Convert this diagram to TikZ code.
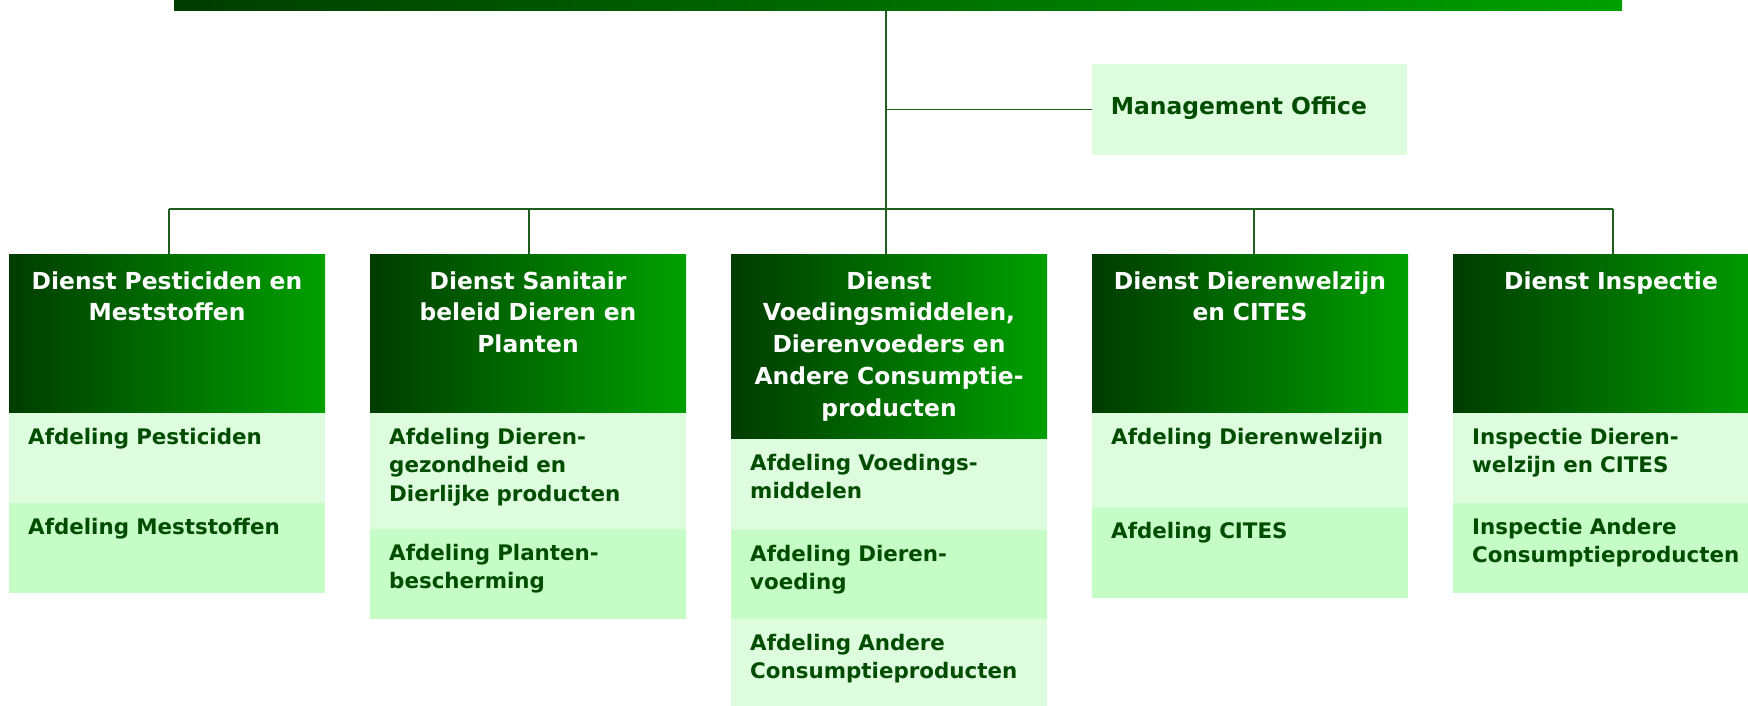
\documentclass[tikz,border=0pt]{standalone}
\usepackage{fontspec}
\setmainfont{DejaVu Sans}
\usetikzlibrary{calc}
\definecolor{dk}{HTML}{003C00}
\definecolor{br}{HTML}{00A000}
\definecolor{lightA}{HTML}{DEFCDE}
\definecolor{lightB}{HTML}{C6FCC6}
\definecolor{txtg}{HTML}{004D00}
\definecolor{linec}{HTML}{1E5E1E}
\newcommand\headfnt{\bfseries\fontsize{23.4}{31.8}\selectfont}
\newcommand\subfnt{\bfseries\fontsize{21.4}{28.8}\selectfont}
\begin{document}
\begin{tikzpicture}[x=1pt,y=-1pt,
  box/.style={anchor=north west, minimum width=316pt, inner sep=0pt, outer sep=0pt, draw=none},
  headbox/.style={box, left color=dk, right color=br},
  subA/.style={box, fill=lightA},
  subB/.style={box, fill=lightB},
  headtxt/.style={anchor=base, text width=310pt, align=center, inner sep=0pt, text=white, font=\headfnt},
  subtxt/.style={anchor=base west, text width=292pt, align=left, inner sep=0pt, text=txtg, font=\subfnt},
  conn/.style={draw=linec, line width=1.8pt}
]
\clip (0,0) rectangle (1748,705);
\fill[white] (0,0) rectangle (1748,705);

% top bar
\node[box, minimum width=1448pt, minimum height=10pt, left color=dk, right color=br] (topbar) at (174,0) {};

% management office
\node[box, minimum width=315pt, minimum height=91pt, fill=lightA] (mo) at (1092,64) {};
\node[anchor=base west, inner sep=0pt, text=txtg, font=\headfnt] (mot) at (1110.6,114) {Management Office};

% heads
\node[headbox, minimum height=159pt] (h1) at (9,254) {};
\node[headbox, minimum height=159pt] (h2) at (370,254) {};
\node[headbox, minimum height=185pt] (h3) at (731,254) {};
\node[headbox, minimum height=159pt] (h4) at (1092,254) {};
\node[headbox, minimum height=159pt] (h5) at (1453,254) {};

% sub boxes
\node[subA, minimum height=90pt] (s11) at (h1.south west) {};
\node[subB, minimum height=90pt] (s12) at (s11.south west) {};
\node[subA, minimum height=116pt] (s21) at (h2.south west) {};
\node[subB, minimum height=90pt] (s22) at (s21.south west) {};
\node[subA, minimum height=91pt] (s31) at (h3.south west) {};
\node[subB, minimum height=89pt] (s32) at (s31.south west) {};
\node[subA, minimum height=95pt] (s33) at (s32.south west) {};
\node[subA, minimum height=94pt] (s41) at (h4.south west) {};
\node[subB, minimum height=91pt] (s42) at (s41.south west) {};
\node[subA, minimum height=90pt] (s51) at (h5.south west) {};
\node[subB, minimum height=90pt] (s52) at (s51.south west) {};

% head texts
\node[headtxt] (t1) at ([yshift=-35pt]h1.north) {Dienst Pesticiden en\\Meststoffen};
\node[headtxt] (t2) at ([yshift=-35pt]h2.north) {Dienst Sanitair\\beleid Dieren en\\Planten};
\node[headtxt] (t3) at ([yshift=-35pt]h3.north) {Dienst\\Voedingsmiddelen,\\Dierenvoeders en\\Andere Consumptie-\\producten};
\node[headtxt] (t4) at ([yshift=-35pt]h4.north) {Dienst Dierenwelzijn\\en CITES};
\node[headtxt] (t5) at ([yshift=-35pt]h5.north) {Dienst Inspectie};

% sub texts
\node[subtxt] (u11) at ([xshift=19pt,yshift=-31pt]s11.north west) {Afdeling Pesticiden};
\node[subtxt] (u12) at ([xshift=19pt,yshift=-31pt]s12.north west) {Afdeling Meststoffen};
\node[subtxt] (u21) at ([xshift=19pt,yshift=-31pt]s21.north west) {Afdeling Dieren-\\gezondheid en\\Dierlijke producten};
\node[subtxt] (u22) at ([xshift=19pt,yshift=-31pt]s22.north west) {Afdeling Planten-\\bescherming};
\node[subtxt] (u31) at ([xshift=19pt,yshift=-31pt]s31.north west) {Afdeling Voedings-\\middelen};
\node[subtxt] (u32) at ([xshift=19pt,yshift=-31pt]s32.north west) {Afdeling Dieren-\\voeding};
\node[subtxt] (u33) at ([xshift=19pt,yshift=-31pt]s33.north west) {Afdeling Andere\\Consumptieproducten};
\node[subtxt] (u41) at ([xshift=19pt,yshift=-31pt]s41.north west) {Afdeling Dierenwelzijn};
\node[subtxt] (u42) at ([xshift=19pt,yshift=-31pt]s42.north west) {Afdeling CITES};
\node[subtxt] (u51) at ([xshift=19pt,yshift=-31pt]s51.north west) {Inspectie Dieren-\\welzijn en CITES};
\node[subtxt] (u52) at ([xshift=19pt,yshift=-31pt]s52.north west) {Inspectie Andere\\Consumptieproducten};

% connector attachment points on the heads
\coordinate (d1) at ([xshift=2pt]h1.north);
\coordinate (d2) at ([xshift=1pt]h2.north);
\coordinate (d3) at ([xshift=-3pt]h3.north);
\coordinate (d4) at ([xshift=4pt]h4.north);
\coordinate (d5) at ([xshift=2pt]h5.north);
\coordinate (bus) at (0,209);

% connectors
\draw[conn] (d3 |- topbar.south) -- (d3);
\draw[conn] (d3 |- mo.west) -- (mo.west);
\draw[conn] (d1 |- bus) -- (d5 |- bus);
\foreach \n in {d1,d2,d4,d5} {
  \draw[conn] (\n |- bus) -- (\n);
}
\end{tikzpicture}
\end{document}
